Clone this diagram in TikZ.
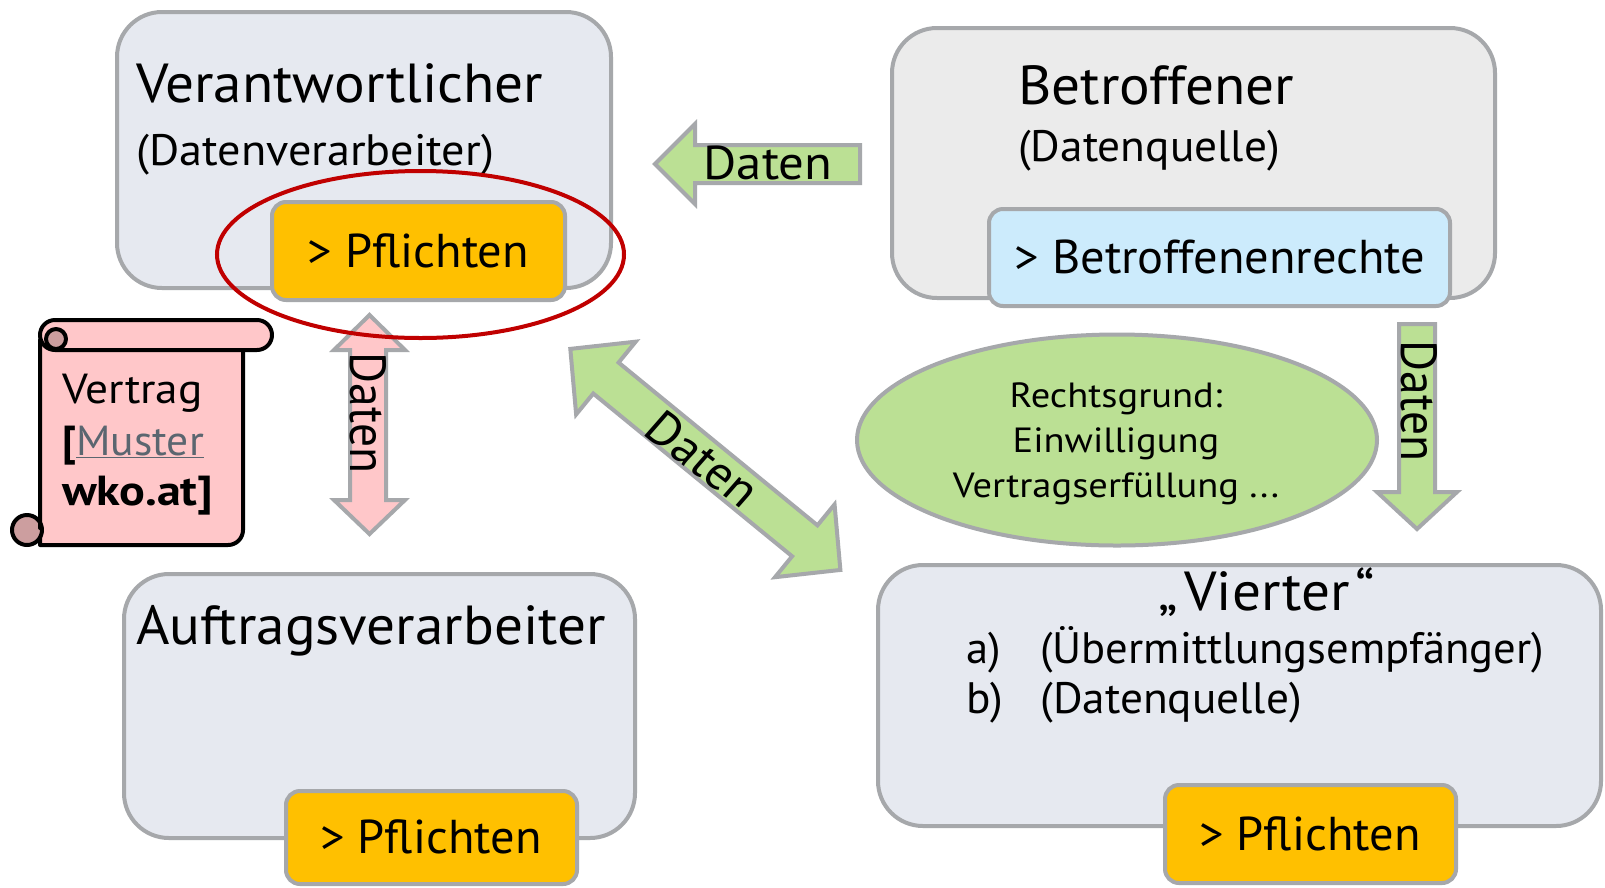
\documentclass[tikz,border=0pt]{standalone}
\usepackage{fontspec}
\setmainfont{PT Sans}
\usetikzlibrary{shapes.geometric}
\definecolor{boxblue}{HTML}{E6E9F0}
\definecolor{boxgray}{HTML}{EBEBEB}
\definecolor{bordergray}{HTML}{A6A8AB}
\definecolor{tagorange}{HTML}{FFC000}
\definecolor{tagblue}{HTML}{CCEBFC}
\definecolor{leafgreen}{HTML}{BBE094}
\definecolor{rosepink}{HTML}{FFC7C9}
\definecolor{curlpink}{HTML}{CC9E9F}
\definecolor{ringred}{HTML}{C00000}
\definecolor{linkgray}{HTML}{5B6670}
\newcommand\fsTitle{\fontsize{55}{60}\selectfont}
\newcommand\fsSub{\fontsize{44}{50}\selectfont}
\newcommand\fsTag{\fontsize{47.5}{52}\selectfont}
\newcommand\fsEll{\fontsize{35}{40}\selectfont}
\newcommand\fsScroll{\fontsize{42}{48}\selectfont}
\begin{document}
\begin{tikzpicture}[x=1pt,y=-1pt,
  box/.style={draw=bordergray, line width=4pt, rounded corners=45pt, fill=boxblue, inner sep=0pt},
  tagbox/.style={draw=bordergray, line width=4pt, rounded corners=14pt, fill=tagorange, inner sep=0pt},
  blockarrow/.style={draw=bordergray, line width=4pt, fill=leafgreen, line join=miter},
  pinkarrow/.style={blockarrow, fill=rosepink},
  scrollline/.style={draw=black, line width=4pt, fill=rosepink, line join=round},
  lbl/.style={inner sep=0pt, text=black},
  titletext/.style={lbl, font=\fsTitle, xscale=1.04},
  subtext/.style={lbl, font=\fsSub, xscale=1.03},
  tagtext/.style={lbl, font=\fsTag, xscale=1.02},
  arrowtext/.style={lbl, font=\fsTag, xscale=1.07},
  elltext/.style={lbl, font=\fsEll, xscale=1.1},
  scrolltext/.style={lbl, font=\fsScroll, xscale=1.08},
]
\useasboundingbox (0,0) rectangle (1605,887);
\fill[white] (0,0) rectangle (1605,887);

% main boxes
\node[box, minimum width=494pt, minimum height=276pt] (verant) at (364,150) {};
\node[box, fill=boxgray, minimum width=603pt, minimum height=270pt] (betr) at (1193.5,163) {};
\node[box, minimum width=511pt, minimum height=264pt] (auftr) at (379.5,706) {};
\node[box, minimum width=723pt, minimum height=261pt] (vierter) at (1239.5,695.5) {};

% tags
\node[tagbox, minimum width=293pt, minimum height=98pt] (pfl1) at (418.5,251) {};
\node[tagbox, fill=tagblue, minimum width=461pt, minimum height=97pt] (brecht) at (1219.5,257.5) {};
\node[tagbox, minimum width=291pt, minimum height=93pt] (pfl2) at (431.5,837.5) {};
\node[tagbox, minimum width=291pt, minimum height=98pt] (pfl3) at (1310.5,834) {};

% arrows
\coordinate (leftTail) at (860,164);
\coordinate (leftTip) at (655,164);
\draw[blockarrow] (860,145) -- (695,145) -- (695,124) -- (leftTip) -- (695,204) -- (695,183) -- (860,183) -- cycle;

\coordinate (downTop) at (1417,324);
\coordinate (downTip) at (1417,529);
\draw[blockarrow] (1399,324) -- (1435,324) -- (1435,492) -- (1457,492) -- (downTip) -- (1377,492) -- (1399,492) -- cycle;

\coordinate (pinkTop) at (369.5,315);
\coordinate (pinkBot) at (369.5,534);
\draw[pinkarrow] (pinkTop) -- (405,350) -- (386,350) -- (386,500) -- (405,500) -- (pinkBot) -- (334,500) -- (350,500) -- (350,350) -- (334,350) -- cycle;

\begin{scope}[shift={(568,347)}, rotate=-39.3]
\draw[blockarrow] (3,0) -- (49,-47) -- (49,-20) -- (306,-20) -- (306,-47) -- (352,0) -- (306,47) -- (306,20) -- (49,20) -- (49,47) -- cycle;
\end{scope}

% green ellipse
\node[ellipse, draw=bordergray, line width=4pt, fill=leafgreen, minimum width=520pt, minimum height=211pt, inner sep=0pt] (grund) at (1117,440) {};

% scroll
\filldraw[scrollline] (40,340) -- (40,545) -- (228,545) .. controls (236.3,545) and (243,538.3) .. (243,530) -- (243,340) -- cycle;
\filldraw[scrollline, fill=curlpink] (27,530) circle[radius=15pt];
\draw[black, line width=4pt, line cap=round] (40,512) -- (40,528);
\filldraw[scrollline, rounded corners=15pt] (40,320) rectangle (272,350);
\filldraw[scrollline, fill=curlpink] (56,339) circle[radius=10pt];

% texts
\node[titletext, anchor=base west] (tVerant) at (136,102) {Verantwortlicher};
\node[subtext, anchor=base west, xscale=1.02] (tVerantSub) at (136,165) {(Datenverarbeiter)};
\node[tagtext, anchor=base] (tPfl1) at (418.5,267) {> Pflichten};

\node[titletext, anchor=base west] (tBetr) at (1018,104) {Betroffener};
\node[subtext, anchor=base west] (tBetrSub) at (1018,161) {(Datenquelle)};
\node[tagtext, anchor=base] (tBrecht) at (1220,273) {> Betroffenenrechte};

\node[titletext, anchor=base west] (tAuftr) at (136,644) {Auftragsverarbeiter};
\node[tagtext, anchor=base] (tPfl2) at (431,853) {> Pflichten};

\node[titletext, anchor=base] (tVierter) at (1267,610) {„\hspace{6pt}Vierter\hspace{6pt}“};
\node[subtext, anchor=base west, xscale=0.985] (tVa) at (966,663) {\makebox[73pt][l]{a)}(Übermittlungsempfänger)};
\node[subtext, anchor=base west] (tVb) at (966,713) {\makebox[72pt][l]{b)}(Datenquelle)};
\node[tagtext, anchor=base] (tPfl3) at (1310,850) {> Pflichten};

\node[elltext, anchor=base] (tE1) at (1116,407) {Rechtsgrund:};
\node[elltext, anchor=base] (tE2) at (1116,452) {Einwilligung};
\node[elltext, anchor=base] (tE3) at (1116,497) {Vertragserfüllung ...};

\node[scrolltext, anchor=base west] (tS1) at (62,403) {Vertrag};
\node[scrolltext, anchor=base west, xscale=0.96] (tS2) at (62,455) {\textbf{[}\textcolor{linkgray}{\underline{Muster}}};
\node[scrolltext, anchor=base west, xscale=1.06] (tS3) at (62,505) {\textbf{wko.at]}};

\node[arrowtext, anchor=base] (tD1) at (768,179) {Daten};
\node[arrowtext, rotate=-90] (tD2) at (368,413) {Daten};
\node[arrowtext, rotate=-90] (tD3) at (1419,401) {Daten};
\node[arrowtext, rotate=-39.3] (tD4) at (703,459) {Daten};

% red highlight ring
\draw[ringred, line width=4pt] (420.5,254.5) ellipse[x radius=203.5pt, y radius=83.5pt];
\end{tikzpicture}
\end{document}
